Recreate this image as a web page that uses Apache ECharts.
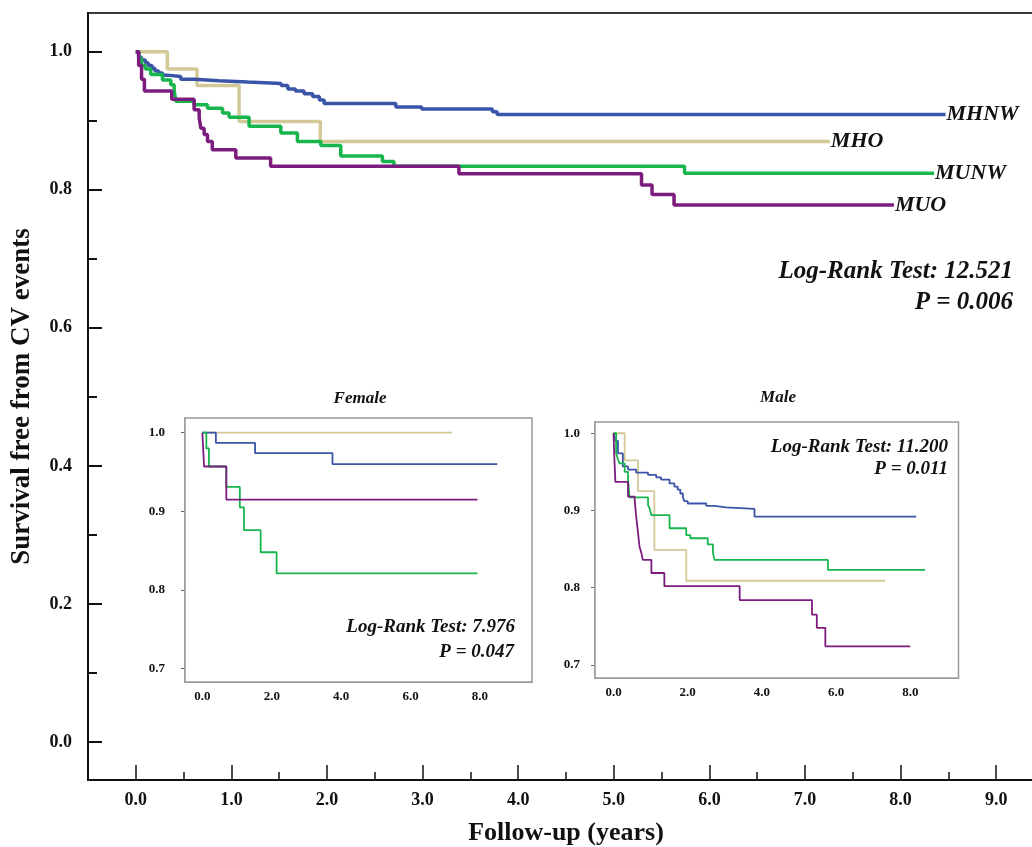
<!DOCTYPE html>
<html><head><meta charset="utf-8">
<script src="https://cdn.jsdelivr.net/npm/echarts@6/dist/echarts.min.js"></script>
<style>html,body{margin:0;padding:0;background:#fff}#c{width:1032px;height:847px}</style>
</head><body><div id="c"></div>
<script>
// ---------- DATA ----------
const groupNames = ['MHNW', 'MHO', 'MUNW', 'MUO'];
const mainXTicks = [0, 1, 2, 3, 4, 5, 6, 7, 8, 9];
const mainXMinor = [0.5, 1.5, 2.5, 3.5, 4.5, 5.5, 6.5, 7.5, 8.5];
const mainYTicks = [0, 0.2, 0.4, 0.6, 0.8, 1.0];
const mainYMinor = [0.1, 0.3, 0.5, 0.7, 0.9];
const insetXLabels = [0, 2, 4, 6, 8];
const insetXTicks = [0, 1, 2, 3, 4, 5, 6, 7, 8, 9];
const insetYTicks = [0.7, 0.8, 0.9, 1.0];

// Whole cohort
const mhnwTime = [0, 0.03, 0.06, 0.10, 0.13, 0.17, 0.20, 0.24, 0.28, 0.33, 0.47, 0.61, 0.87, 1.17, 1.52, 1.59, 1.67, 1.76, 1.85, 1.92, 1.97, 2.72, 2.99, 3.73, 3.78, 8.47];
const mhnwSurv = [1.0, 0.992, 0.988, 0.984, 0.980, 0.976, 0.972, 0.969, 0.966, 0.964, 0.960, 0.958, 0.956, 0.954, 0.951, 0.946, 0.943, 0.939, 0.935, 0.930, 0.925, 0.920, 0.917, 0.913, 0.909, 0.909];
const mhoTime = [0, 0.33, 0.64, 1.08, 1.93, 7.26];
const mhoSurv = [1.0, 0.975, 0.951, 0.899, 0.870, 0.870];
const munwTime = [0, 0.03, 0.06, 0.10, 0.157, 0.279, 0.366, 0.401, 0.418, 0.61, 0.75, 0.907, 0.976, 1.185, 1.517, 1.69, 1.935, 2.144, 2.58, 2.70, 5.74, 8.35];
const munwSurv = [1.0, 0.990, 0.980, 0.975, 0.967, 0.959, 0.952, 0.945, 0.928, 0.923, 0.918, 0.911, 0.905, 0.892, 0.882, 0.870, 0.864, 0.849, 0.841, 0.834, 0.824, 0.824];
const muoTime = [0, 0.03, 0.06, 0.09, 0.376, 0.61, 0.663, 0.68, 0.715, 0.75, 0.80, 1.046, 1.41, 3.38, 5.29, 5.40, 5.63, 7.93];
const muoSurv = [1.0, 0.980, 0.960, 0.943, 0.931, 0.916, 0.904, 0.889, 0.880, 0.870, 0.858, 0.846, 0.834, 0.823, 0.807, 0.793, 0.778, 0.778];

// Female inset
const fMhnwTime = [0, 0.39, 1.52, 3.75, 8.5];
const fMhnwSurv = [1.0, 0.987, 0.974, 0.960, 0.960];
const fMhoTime = [0, 7.2];
const fMhoSurv = [1.0, 1.0];
const fMunwTime = [0, 0.115, 0.19, 0.69, 1.08, 1.20, 1.68, 2.14, 7.93];
const fMunwSurv = [1.0, 0.980, 0.957, 0.931, 0.905, 0.876, 0.848, 0.821, 0.821];
const fMuoTime = [0, 0.05, 0.69, 7.93];
const fMuoSurv = [1.0, 0.957, 0.915, 0.915];

// Male inset
const mMhnwTime = [0, 0.05, 0.12, 0.25, 0.39, 0.61, 0.93, 1.15, 1.28, 1.51, 1.64, 1.73, 1.80, 1.87, 1.91, 2.00, 2.50, 2.72, 3.03, 3.80, 8.16];
const mMhnwSurv = [1.0, 0.990, 0.974, 0.957, 0.953, 0.949, 0.946, 0.943, 0.940, 0.935, 0.931, 0.927, 0.922, 0.917, 0.912, 0.909, 0.906, 0.904, 0.902, 0.892, 0.892];
const mMhoTime = [0, 0.30, 0.66, 1.10, 1.96, 7.32];
const mMhoSurv = [1.0, 0.965, 0.925, 0.849, 0.809, 0.809];
const mMunwTime = [0, 0.07, 0.12, 0.16, 0.30, 0.39, 0.43, 0.93, 0.97, 1.02, 1.51, 1.96, 2.07, 2.54, 2.68, 2.72, 5.78, 8.4];
const mMunwSurv = [1.0, 0.974, 0.966, 0.961, 0.950, 0.941, 0.917, 0.907, 0.903, 0.894, 0.877, 0.868, 0.864, 0.856, 0.845, 0.836, 0.823, 0.823];
const mMuoTime = [0, 0.02, 0.05, 0.39, 0.57, 0.61, 0.66, 0.70, 0.75, 0.79, 1.02, 1.37, 3.40, 5.35, 5.48, 5.71, 8.0];
const mMuoSurv = [1.0, 0.970, 0.937, 0.918, 0.914, 0.892, 0.871, 0.853, 0.845, 0.836, 0.819, 0.802, 0.784, 0.765, 0.748, 0.724, 0.724];

const mainStatText = ['Log-Rank Test: 12.521', 'P = 0.006'];
const femaleStatText = ['Log-Rank Test: 7.976', 'P = 0.047'];
const maleStatText = ['Log-Rank Test: 11.200', 'P = 0.011'];
const insetTitles = ['Female', 'Male'];

// ---------- STYLE ----------
const SERIF = "'Liberation Serif','DejaVu Serif',serif";
const groupColors = ['#3a55a8', '#d3c897', '#18b54d', '#7b1c7e'];

const zip = (t, s) => t.map((v, i) => [v, s[i]]);
const fmt1 = v => v.toFixed(1);

const chart = echarts.init(document.getElementById('c'), null, {renderer: 'canvas'});

function mainSeries(name, t, s, idx) {
  return {
    name, type: 'line', step: 'end', xAxisIndex: 0, yAxisIndex: 0,
    data: zip(t, s), showSymbol: false, silent: true, animation: false,
    lineStyle: {color: groupColors[idx], width: 3.5},
    itemStyle: {color: groupColors[idx]},
    endLabel: {show: true, formatter: '{a}', color: '#111', fontFamily: SERIF,
      fontStyle: 'italic', fontWeight: 'bold', fontSize: 22, distance: 1},
    z: 5
  };
}
function insetSeries(name, t, s, idx, ax) {
  return {
    name: name + ax, type: 'line', step: 'end', xAxisIndex: ax, yAxisIndex: ax,
    data: zip(t, s), showSymbol: false, silent: true, animation: false,
    lineStyle: {color: groupColors[idx], width: 1.8},
    itemStyle: {color: groupColors[idx]}, z: 5
  };
}

const tickLab = {fontFamily: SERIF, fontWeight: 'bold', color: '#111'};

function insetX(grid, max) {
  return {
    gridIndex: grid, type: 'value', min: -0.5, max: max, position: 'bottom',
    axisLine: {show: true, onZero: false, lineStyle: {color: '#8a8a8a', width: 1.5}},
    axisTick: {show: true, inside: true, length: 4, customValues: insetXTicks, lineStyle: {color: '#666'}},
    axisLabel: Object.assign({show: true, customValues: insetXLabels, formatter: fmt1, fontSize: 13, margin: 8}, tickLab),
    splitLine: {show: false}
  };
}
function insetY(grid, min, max, margin) {
  return {
    gridIndex: grid, type: 'value', min: min, max: max, position: 'left',
    axisLine: {show: true, onZero: false, lineStyle: {color: '#8a8a8a', width: 1.5}},
    axisTick: {show: true, inside: false, length: 4, customValues: insetYTicks, lineStyle: {color: '#666'}},
    axisLabel: Object.assign({show: true, customValues: insetYTicks, formatter: fmt1, fontSize: 13, margin: margin}, tickLab),
    splitLine: {show: false}
  };
}

function txt(text, x, y, align, size) {
  return {type: 'text', x: x, y: y, z: 20, silent: true,
    style: {text: text, textAlign: align, textVerticalAlign: 'middle', fill: '#111',
      font: 'italic bold ' + size + 'px ' + SERIF}};
}

const option = {
  animation: false,
  backgroundColor: '#fff',
  grid: [
    {left: 88, top: 13, width: 956, height: 767, outerBoundsMode: 'none', containLabel: false, show: true, borderColor: '#3a3a3a', borderWidth: 2, backgroundColor: 'transparent', z: 0},
    {left: 185, top: 418, width: 347, height: 264, outerBoundsMode: 'none', show: true, borderColor: '#9a9a9a', borderWidth: 1.5, backgroundColor: '#fff', z: 1},
    {left: 595, top: 422, width: 363.5, height: 256, outerBoundsMode: 'none', show: true, borderColor: '#9a9a9a', borderWidth: 1.5, backgroundColor: '#fff', z: 1}
  ],
  xAxis: [
    {gridIndex: 0, type: 'value', min: -0.5, max: 9.5, position: 'bottom',
      name: 'Follow-up (years)', nameLocation: 'middle', nameGap: 40,
      nameTextStyle: {fontFamily: SERIF, fontWeight: 'bold', fontSize: 26, color: '#111'},
      axisLine: {show: true, onZero: false, lineStyle: {color: '#111', width: 2}},
      axisTick: {show: true, inside: true, length: 15, customValues: mainXTicks, lineStyle: {color: '#111', width: 1.5}},
      axisLabel: Object.assign({show: true, customValues: mainXTicks, formatter: fmt1, fontSize: 18, margin: 11}, tickLab),
      splitLine: {show: false}},
    insetX(1, 9.5),
    insetX(2, 9.3),
    {gridIndex: 0, type: 'value', min: -0.5, max: 9.5, position: 'bottom',
      axisLine: {show: false, onZero: false},
      axisTick: {show: true, inside: true, length: 8, customValues: mainXMinor, lineStyle: {color: '#111', width: 1.5}},
      axisLabel: {show: false}, splitLine: {show: false}}
  ],
  yAxis: [
    {gridIndex: 0, type: 'value', min: -0.055, max: 1.056, position: 'left',
      name: 'Survival free from CV events', nameLocation: 'middle', nameGap: 52, nameRotate: 90,
      nameTextStyle: {fontFamily: SERIF, fontWeight: 'bold', fontSize: 27, color: '#111'},
      axisLine: {show: true, onZero: false, lineStyle: {color: '#111', width: 2}},
      axisTick: {show: true, inside: true, length: 14, customValues: mainYTicks, lineStyle: {color: '#111', width: 2}},
      axisLabel: Object.assign({show: true, customValues: mainYTicks, formatter: fmt1, fontSize: 18, margin: 16}, tickLab),
      splitLine: {show: false}},
    insetY(1, 0.683, 1.0187, 20),
    insetY(2, 0.683, 1.0146, 15),
    {gridIndex: 0, type: 'value', min: -0.055, max: 1.056, position: 'left',
      axisLine: {show: false, onZero: false},
      axisTick: {show: true, inside: true, length: 9, customValues: mainYMinor, lineStyle: {color: '#111', width: 2}},
      axisLabel: {show: false}, splitLine: {show: false}}
  ],
  series: [
    mainSeries(groupNames[1], mhoTime, mhoSurv, 1),
    mainSeries(groupNames[0], mhnwTime, mhnwSurv, 0),
    mainSeries(groupNames[2], munwTime, munwSurv, 2),
    mainSeries(groupNames[3], muoTime, muoSurv, 3),
    insetSeries(groupNames[1], fMhoTime, fMhoSurv, 1, 1),
    insetSeries(groupNames[0], fMhnwTime, fMhnwSurv, 0, 1),
    insetSeries(groupNames[2], fMunwTime, fMunwSurv, 2, 1),
    insetSeries(groupNames[3], fMuoTime, fMuoSurv, 3, 1),
    insetSeries(groupNames[1], mMhoTime, mMhoSurv, 1, 2),
    insetSeries(groupNames[0], mMhnwTime, mMhnwSurv, 0, 2),
    insetSeries(groupNames[2], mMunwTime, mMunwSurv, 2, 2),
    insetSeries(groupNames[3], mMuoTime, mMuoSurv, 3, 2)
  ],
  graphic: [
    txt(mainStatText[0], 1013, 272, 'right', 25),
    txt(mainStatText[1], 1013, 303, 'right', 25),
    txt(insetTitles[0], 360, 399, 'center', 17),
    txt(insetTitles[1], 778, 398, 'center', 17),
    txt(femaleStatText[0], 515, 627, 'right', 19),
    txt(femaleStatText[1], 514, 652, 'right', 19),
    txt(maleStatText[0], 948, 447, 'right', 19),
    txt(maleStatText[1], 948, 469, 'right', 19)
  ]
};
chart.setOption(option);
</script>
</body></html>
